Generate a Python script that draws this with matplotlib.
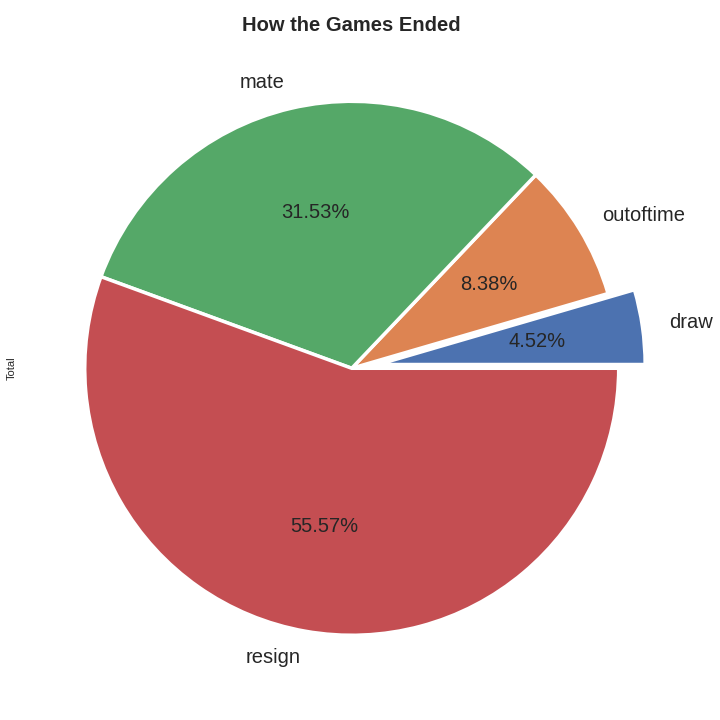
import matplotlib
matplotlib.use("Agg")
import matplotlib.pyplot as plt
import seaborn as sns

sns.set_theme(style="white")
plt.rcParams['font.family'] = ['Liberation Sans', 'DejaVu Sans']

labels = ['draw', 'outoftime', 'mate', 'resign']
totals = [906, 1680, 6325, 11147]
explode = [0.1, 0, 0, 0]

colors = sns.color_palette('deep')
colors = [colors[0], colors[1], colors[2], colors[3]]

fig = plt.figure(figsize=(7.2, 7.2), dpi=100)
ax = fig.add_axes([0.025, 0.025, 0.927, 0.927])
ax.pie(totals, labels=labels, autopct='%.2f%%', explode=explode,
       colors=colors, startangle=0, counterclock=True,
       wedgeprops={'edgecolor': 'white', 'linewidth': 2.5},
       textprops={'fontsize': 14.5})
ax.set_ylabel('Total', fontsize=8, labelpad=1)
ax.set_title('How the Games Ended', fontsize=14.5, fontweight='bold', pad=1.5)
ax.set_aspect('equal')
fig.savefig('out.png', dpi=100)
